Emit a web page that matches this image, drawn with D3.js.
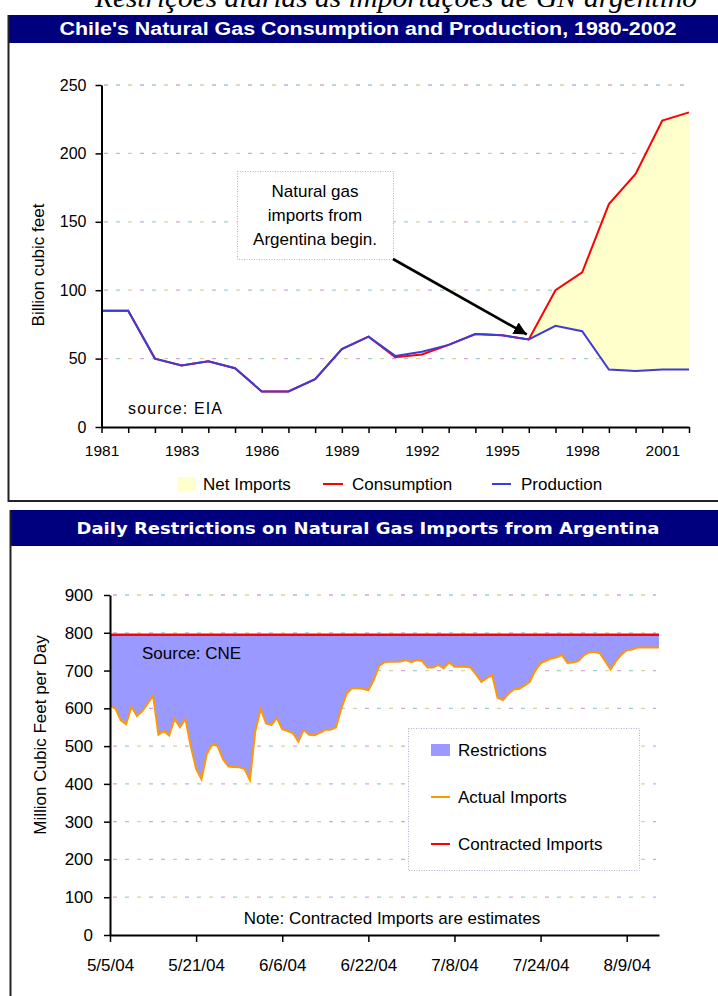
<!DOCTYPE html>
<meta charset="utf-8">
<head>
<style>
  body { margin: 0; background: #fff; }
  text { font-family: "Liberation Sans", Arial, sans-serif; fill: #000; }
</style>
</head>
<body>
<div id="chart"></div>
<script src="https://cdnjs.cloudflare.com/ajax/libs/d3/7.8.5/d3.min.js"></script>
<script>
// ---- data: Chile gas (top) ----
const topYears = ["1980","1981","1982","1983","1984","1985","1986","1987","1988","1989","1990","1991",
                  "1992","1993","1994","1995","1996","1997","1998","1999","2000","2001","2002"];
const production  = [85,85,50,45,48,43,26,26,35,57,66,52,55,60,68,67,64,74,70,42,41,42,42];
const consumption = [85,85,50,45,48,43,26,26,35,57,66,51,53,60,68,67,64,100,113,163,185,224,230];
const topTickLabels = ["1981","1983","1986","1989","1992","1995","1998","2001"];
const topYTicks = [0,50,100,150,200,250];

// ---- data: daily restrictions (bottom) ----
const firstDay = "5/5/04";
const actualImports = [
  606,600,568,558,604,580,592,612,634,530,540,528,572,550,572,500,440,412,480,505,
  500,465,446,445,444,440,410,540,598,560,556,574,545,540,534,512,543,530,529,535,
  543,543,550,600,640,653,653,652,648,675,712,722,723,723,724,728,722,728,725,708,
  708,715,706,722,710,710,710,708,690,670,680,688,628,622,638,650,652,660,670,700,
  719,726,732,735,741,720,721,725,740,748,750,746,725,703,725,742,754,756,761,761,
  761,761,761];
const contractedImports = 795;
const dateTicks = ["5/5/04","5/21/04","6/6/04","6/22/04","7/8/04","7/24/04","8/9/04"];
const bottomYTicks = [0,100,200,300,400,500,600,700,800,900];

const W = 718, H = 996;
const svg = d3.select('#chart').append('svg').attr('width', W).attr('height', H);

// heading above the charts, cut off by the top edge as in the source picture
svg.append('text').attr('x', 396).attr('y', 7)
   .attr('text-anchor', 'middle')
   .style('font-family', '"Liberation Serif", "Times New Roman", serif')
   .style('font-style', 'italic').style('font-size', '28px')
   .attr('textLength', 602).attr('lengthAdjust', 'spacingAndGlyphs')
   .text('Restrições diárias às importações de GN argentino');

// dashed pastel gridline
function grid(g, ys, x0, x1) {
  const cols = ['#d4a6d8', '#9ccfd0', '#d6d49a'];
  ys.forEach(y => {
    cols.forEach((c, i) => {
      g.append('line').attr('x1', x0).attr('x2', x1).attr('y1', y).attr('y2', y)
       .attr('stroke', c).attr('stroke-width', 1.3)
       .attr('stroke-dasharray', '4,32').attr('stroke-dashoffset', -12 * i);
    });
  });
}
function styleAxis(a, fs) {
  a.select('.domain').attr('stroke', '#000').attr('stroke-width', 2);
  a.selectAll('.tick line').attr('stroke', '#000').attr('stroke-width', 1.5);
  a.selectAll('.tick text').style('font-size', fs + 'px').attr('fill', '#000');
}

// ================= top panel =================
svg.append('rect').attr('x', 8).attr('y', 15).attr('width', W - 8).attr('height', 28).attr('fill', '#00007f');
svg.append('text').attr('x', 368).attr('y', 35).attr('text-anchor', 'middle')
   .style('font-weight', 'bold').style('font-size', '18px').style('fill', '#fff')
   .attr('textLength', 617).attr('lengthAdjust', 'spacingAndGlyphs')
   .text("Chile's Natural Gas Consumption and Production,  1980-2002");
svg.append('line').attr('x1', 8.5).attr('x2', 8.5).attr('y1', 15).attr('y2', 502).attr('stroke', '#222').attr('stroke-width', 2);
svg.append('line').attr('x1', 8).attr('x2', W).attr('y1', 501).attr('y2', 501).attr('stroke', '#222').attr('stroke-width', 2);

const xTop = d3.scalePoint().domain(topYears).range([101.5, 689]);
const yTop = d3.scaleLinear().domain([0, 250]).range([427, 85]);
const topG = svg.append('g');

grid(topG, topYTicks.slice(1).map(yTop), 104, 686);

const netArea = d3.area()
  .x((d, i) => xTop(topYears[i]))
  .y0((d, i) => yTop(production[i]))
  .y1((d, i) => yTop(Math.max(consumption[i], production[i])));
topG.append('path').datum(production).attr('d', netArea).attr('fill', '#ffffcc');

const topLine = vals => d3.line().x((d, i) => xTop(topYears[i])).y(d => yTop(d))(vals);
topG.append('path').attr('d', topLine(consumption)).attr('fill', 'none').attr('stroke', '#ff0000').attr('stroke-width', 2);
topG.append('path').attr('d', topLine(production)).attr('fill', 'none').attr('stroke', '#3c3cd8').attr('stroke-width', 2);

const ayTop = topG.append('g').attr('transform', 'translate(101.5,0)')
  .call(d3.axisLeft(yTop).tickValues(topYTicks).tickSize(6).tickSizeOuter(0).tickPadding(9));
styleAxis(ayTop, 16);
const axTop = topG.append('g').attr('transform', 'translate(0,427)')
  .call(d3.axisBottom(xTop).tickSize(6).tickSizeOuter(0).tickPadding(12)
    .tickFormat((d, i) => i % 3 === 0 ? (topTickLabels[i / 3] || '') : ''));
styleAxis(axTop, 15.5);

topG.append('text').attr('transform', 'translate(44,265) rotate(-90)').attr('text-anchor', 'middle')
   .style('font-size', '17px').text('Billion cubic feet');
topG.append('text').attr('x', 128).attr('y', 414).style('font-size', '16px')
   .attr('textLength', 94).text('source: EIA');

// annotation
topG.append('rect').attr('x', 237.5).attr('y', 171.5).attr('width', 156).attr('height', 88)
   .attr('fill', '#fff').attr('stroke', '#b4b0c8').attr('stroke-dasharray', '1,1.5');
['Natural gas', 'imports from', 'Argentina begin.'].forEach((t, i) => {
  topG.append('text').attr('x', 315).attr('y', 197 + i * 24).attr('text-anchor', 'middle')
     .style('font-size', '17px').text(t);
});
svg.append('defs').append('marker').attr('id', 'head').attr('viewBox', '0 0 10 10')
   .attr('refX', 10).attr('refY', 5).attr('markerWidth', 5).attr('markerHeight', 5)
   .attr('orient', 'auto').attr('markerUnits', 'strokeWidth')
   .append('path').attr('d', 'M0,0L10,5L0,10z').attr('fill', '#000');
topG.append('line').attr('x1', 393).attr('y1', 259).attr('x2', xTop('1996') - 2).attr('y2', yTop(production[16]) - 5)
   .attr('stroke', '#000').attr('stroke-width', 2.6).attr('marker-end', 'url(#head)');

// legend
const lgTop = topG.append('g');
lgTop.append('rect').attr('x', 178).attr('y', 477).attr('width', 18).attr('height', 14).attr('fill', '#ffffcc');
lgTop.append('text').attr('x', 203).attr('y', 490).style('font-size', '17px').text('Net Imports');
lgTop.append('line').attr('x1', 323).attr('x2', 343).attr('y1', 484).attr('y2', 484).attr('stroke', '#ff0000').attr('stroke-width', 2);
lgTop.append('text').attr('x', 352).attr('y', 490).style('font-size', '17px').text('Consumption');
lgTop.append('line').attr('x1', 492).attr('x2', 511).attr('y1', 484).attr('y2', 484).attr('stroke', '#3c3cd8').attr('stroke-width', 2);
lgTop.append('text').attr('x', 521).attr('y', 490).style('font-size', '17px').text('Production');

// ================= bottom panel =================
svg.append('rect').attr('x', 10).attr('y', 510).attr('width', W - 10).attr('height', 36).attr('fill', '#00007f');
svg.append('text').attr('x', 368).attr('y', 534).attr('text-anchor', 'middle')
   .style('font-family', '"DejaVu Sans", Verdana, sans-serif')
   .style('font-weight', 'bold').style('font-size', '16px').style('fill', '#fff')
   .attr('textLength', 583).attr('lengthAdjust', 'spacingAndGlyphs')
   .text('Daily Restrictions on Natural Gas Imports from Argentina');
svg.append('line').attr('x1', 10.5).attr('x2', 10.5).attr('y1', 510).attr('y2', H).attr('stroke', '#222').attr('stroke-width', 2);

const parse = d3.timeParse('%m/%d/%y');
const day0 = parse(firstDay);
const days = actualImports.map((v, i) => d3.timeDay.offset(day0, i));
const xBot = d3.scaleTime().domain([day0, days[days.length - 1]]).range([110, 659]);
const yBot = d3.scaleLinear().domain([0, 900]).range([935, 595]);
const botG = svg.append('g');

grid(botG, bottomYTicks.slice(1).map(yBot), 113, 656);

const restrictArea = d3.area()
  .x((d, i) => xBot(days[i]))
  .y0(d => yBot(d))
  .y1(yBot(contractedImports));
botG.append('path').datum(actualImports).attr('d', restrictArea).attr('fill', '#9999ff');
botG.append('path').datum(actualImports)
   .attr('d', d3.line().x((d, i) => xBot(days[i])).y(d => yBot(d)))
   .attr('fill', 'none').attr('stroke', '#ff9900').attr('stroke-width', 2);
botG.append('line').attr('x1', xBot(day0)).attr('x2', xBot(days[days.length - 1]))
   .attr('y1', yBot(contractedImports)).attr('y2', yBot(contractedImports))
   .attr('stroke', '#ff0000').attr('stroke-width', 2.5);

const ayBot = botG.append('g').attr('transform', 'translate(110,0)')
  .call(d3.axisLeft(yBot).tickValues(bottomYTicks).tickSize(6).tickSizeOuter(0).tickPadding(11));
styleAxis(ayBot, 17);
const axBot = botG.append('g').attr('transform', 'translate(0,935)')
  .call(d3.axisBottom(xBot).tickValues(dateTicks.map(parse)).tickSize(7).tickSizeOuter(0).tickPadding(17)
    .tickFormat((d, i) => dateTicks[i]));
styleAxis(axBot, 17);

botG.append('text').attr('transform', 'translate(46,735) rotate(-90)').attr('text-anchor', 'middle')
   .style('font-size', '17px').text('Million Cubic Feet per Day');
botG.append('text').attr('x', 142).attr('y', 659).style('font-size', '17px').text('Source: CNE');
botG.append('text').attr('x', 392).attr('y', 924).attr('text-anchor', 'middle')
   .style('font-size', '17px').text('Note: Contracted Imports are estimates');

// legend box
const lgBot = botG.append('g');
lgBot.append('rect').attr('x', 408.5).attr('y', 728.5).attr('width', 231).attr('height', 142)
     .attr('fill', '#fff').attr('stroke', '#b4b0c8').attr('stroke-dasharray', '1,1.5');
lgBot.append('rect').attr('x', 431).attr('y', 744).attr('width', 19).attr('height', 12).attr('fill', '#9999ff');
lgBot.append('text').attr('x', 458).attr('y', 756).style('font-size', '17px').text('Restrictions');
lgBot.append('line').attr('x1', 431).attr('x2', 450).attr('y1', 797).attr('y2', 797).attr('stroke', '#ff9900').attr('stroke-width', 2);
lgBot.append('text').attr('x', 458).attr('y', 803).style('font-size', '17px').text('Actual Imports');
lgBot.append('line').attr('x1', 431).attr('x2', 450).attr('y1', 844).attr('y2', 844).attr('stroke', '#ff0000').attr('stroke-width', 2);
lgBot.append('text').attr('x', 458).attr('y', 850).style('font-size', '17px').text('Contracted Imports');
</script>
</body>
